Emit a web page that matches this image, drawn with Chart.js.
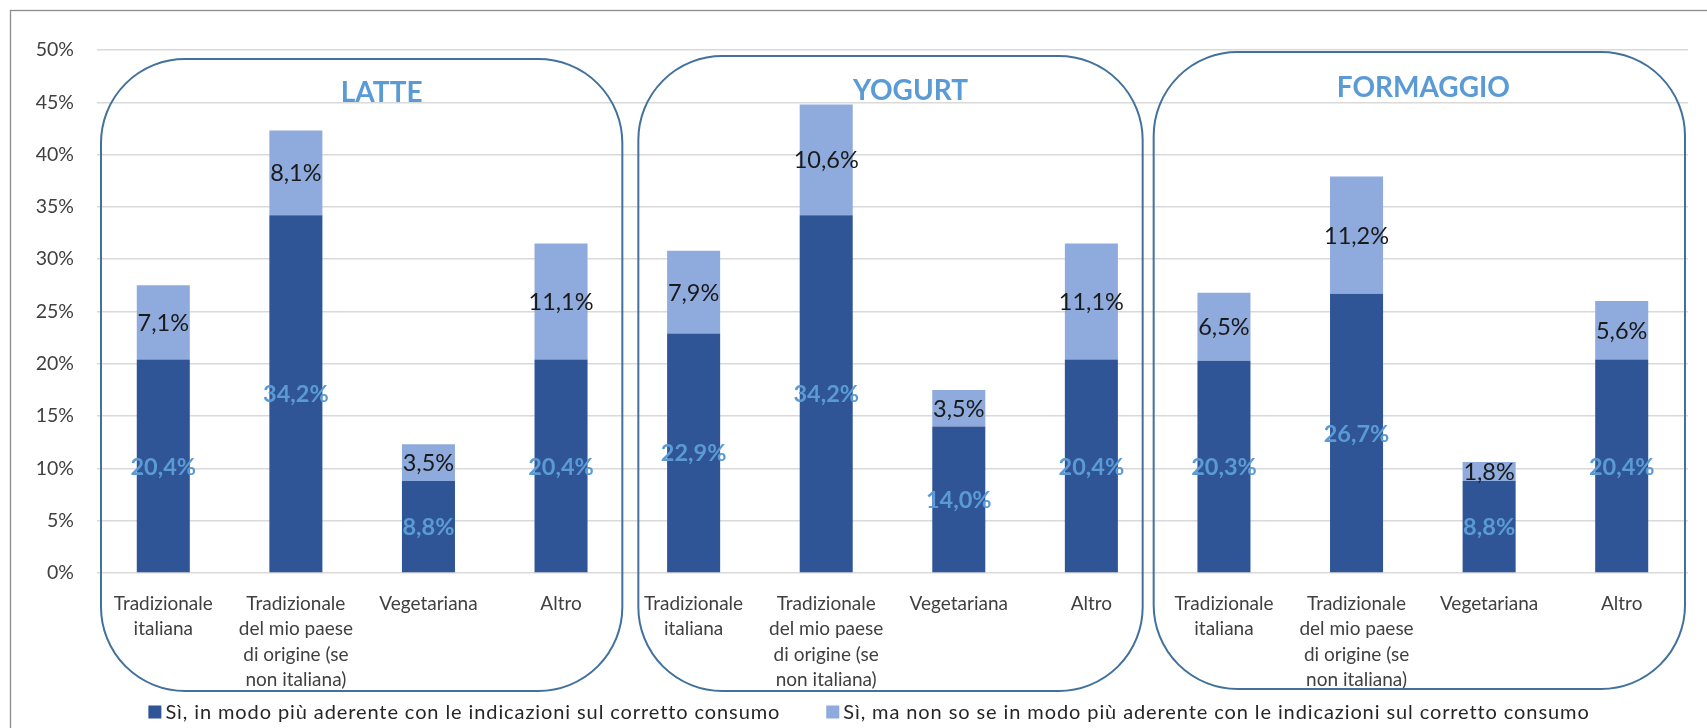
<!DOCTYPE html>
<html>
<head>
<meta charset="utf-8">
<title>Consumo latte, yogurt, formaggio</title>
<script src="https://cdn.jsdelivr.net/npm/chart.js@4.4.1/dist/chart.umd.min.js"></script>
<style>
  html, body { margin: 0; padding: 0; background: #fff; }
  canvas { display: block; }
</style>
</head>
<body>
<canvas id="chart" width="1707" height="728"></canvas>
<script>
// product groups, 4 categories each
const groups = ['LATTE', 'YOGURT', 'FORMAGGIO'];
const dietLabels = [
  ['Tradizionale', 'italiana'],
  ['Tradizionale', 'del mio paese', 'di origine (se', 'non italiana)'],
  ['Vegetariana'],
  ['Altro']
];
const categories = groups.flatMap(() => dietLabels);

const seriesNames = [
  'Sì, in modo più aderente con le indicazioni sul corretto consumo',
  'Sì, ma non so se in modo più aderente con le indicazioni sul corretto consumo'
];
// LATTE | YOGURT | FORMAGGIO
const coherentValues = [20.4, 34.2, 8.8, 20.4,  22.9, 34.2, 14.0, 20.4,  20.3, 26.7, 8.8, 20.4];
const unsureValues   = [7.1, 8.1, 3.5, 11.1,    7.9, 10.6, 3.5, 11.1,    6.5, 11.2, 1.8, 5.6];

const yMax = 50;
const yStep = 5;

const FONT = 'Lato, "Open Sans", sans-serif';
const fmt = v => v.toFixed(1).replace('.', ',') + '%';

// decoration for the rounded group frames
const frameStyle = [
  { inL: 4,  inR: 5,  top: 59, bottom: 691, dx: 20, ty: 93 },
  { inL: 11, inR: 15, top: 56, bottom: 691, dx: 20, ty: 91 },
  { inL: -4, inR: 3,  top: 52, bottom: 689, dx: 4,  ty: 88 }
];

const overlayPlugin = {
  id: 'overlay',
  afterDatasetsDraw(chart) {
    const ctx = chart.ctx;
    ctx.save();
    ctx.textAlign = 'center';
    ctx.textBaseline = 'middle';
    chart.data.datasets.forEach((ds, di) => {
      const meta = chart.getDatasetMeta(di);
      ctx.font = (di === 0 ? 'bold ' : '') + '23.5px ' + FONT;
      ctx.fillStyle = di === 0 ? '#5B9BD5' : '#1a1a1a';
      meta.data.forEach((bar, i) => {
        ctx.fillText(fmt(ds.data[i]), bar.x, (bar.y + bar.base) / 2 + 1);
      });
    });
    ctx.restore();
  },
  afterDraw(chart) {
    const ctx = chart.ctx;
    const x = chart.scales.x;
    const catW = x.width / categories.length;
    ctx.save();

    // outer chart frame
    ctx.strokeStyle = '#8c8c8c';
    ctx.lineWidth = 1.3;
    ctx.strokeRect(10.5, 10.5, chart.width + 20, chart.height + 20);

    groups.forEach((name, g) => {
      const s = frameStyle[g];
      const left = x.getPixelForValue(g * 4) - catW / 2 + s.inL;
      const right = x.getPixelForValue(g * 4 + 3) + catW / 2 - s.inR;
      ctx.beginPath();
      ctx.roundRect(left, s.top, right - left, s.bottom - s.top, 84);
      ctx.strokeStyle = '#41719C';
      ctx.lineWidth = 2;
      ctx.stroke();

      ctx.font = 'bold 28px ' + FONT;
      ctx.fillStyle = '#5B9BD5';
      ctx.textAlign = 'center';
      ctx.textBaseline = 'middle';
      ctx.fillText(name, (left + right) / 2 + s.dx, s.ty);
    });

    // legend
    ctx.font = '20px ' + FONT;
    ctx.letterSpacing = '0.9px';
    ctx.textAlign = 'left';
    ctx.textBaseline = 'middle';
    const box = 13, gapText = 4, gapItem = 46, legendY = 712;
    const widths = chart.data.datasets.map(ds => box + gapText + ctx.measureText(ds.label).width);
    const total = widths.reduce((a, b) => a + b, 0) + gapItem * (widths.length - 1);
    let lx = 869 - total / 2;
    chart.data.datasets.forEach((ds, i) => {
      ctx.fillStyle = ds.backgroundColor;
      ctx.fillRect(lx, legendY - box / 2, box, box);
      ctx.fillStyle = '#262626';
      ctx.fillText(ds.label, lx + box + gapText, legendY + 1);
      lx += widths[i] + gapItem;
    });
    ctx.restore();
  }
};

new Chart(document.getElementById('chart'), {
  type: 'bar',
  data: {
    labels: categories,
    datasets: [
      {
        label: seriesNames[0],
        data: coherentValues,
        backgroundColor: '#2F5597',
        barPercentage: 0.4,
        categoryPercentage: 1
      },
      {
        label: seriesNames[1],
        data: unsureValues,
        backgroundColor: '#8FAADC',
        barPercentage: 0.4,
        categoryPercentage: 1
      }
    ]
  },
  options: {
    responsive: false,
    animation: false,
    layout: { padding: { top: 50, right: 19, left: 0, bottom: 32 } },
    plugins: {
      tooltip: { enabled: false },
      legend: { display: false }
    },
    scales: {
      x: {
        stacked: true,
        grid: { display: false },
        border: { display: false },
        ticks: {
          autoSkip: false,
          maxRotation: 0,
          padding: 10,
          color: '#404040',
          font: { family: FONT, size: 19, lineHeight: 1.34 }
        },
        afterFit(scale) { scale.height = 123; }
      },
      y: {
        stacked: true,
        min: 0,
        max: yMax,
        grid: { color: '#d9d9d9', lineWidth: 1.5, drawTicks: false },
        border: { display: false },
        ticks: {
          stepSize: yStep,
          padding: 23,
          color: '#404040',
          font: { family: FONT, size: 19.5 },
          callback: v => v + '%'
        },
        afterFit(scale) { scale.width = 97; }
      }
    }
  },
  plugins: [overlayPlugin]
});
</script>
</body>
</html>
